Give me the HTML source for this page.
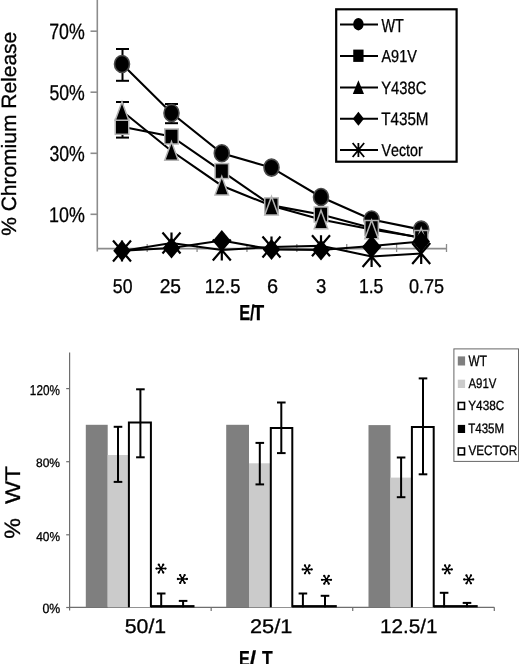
<!DOCTYPE html>
<html><head><meta charset="utf-8"><style>
html,body{margin:0;padding:0;background:#fff;}
body{width:520px;height:664px;overflow:hidden;}
svg{display:block;font-family:"Liberation Sans", sans-serif;will-change:transform;font-kerning:none;text-rendering:geometricPrecision;}
</style></head><body>
<svg width="520" height="664" viewBox="0 0 520 664">
<rect width="520" height="664" fill="#fff"/>
<line x1="97.3" y1="0" x2="97.3" y2="251.5" stroke="#8c8c8c" stroke-width="1.6"/>
<line x1="90.5" y1="31.2" x2="97.3" y2="31.2" stroke="#8c8c8c" stroke-width="1.6"/>
<line x1="90.5" y1="92.2" x2="97.3" y2="92.2" stroke="#8c8c8c" stroke-width="1.6"/>
<line x1="90.5" y1="153.3" x2="97.3" y2="153.3" stroke="#8c8c8c" stroke-width="1.6"/>
<line x1="90.5" y1="214.3" x2="97.3" y2="214.3" stroke="#8c8c8c" stroke-width="1.6"/>
<line x1="97.3" y1="248.6" x2="446.8" y2="248.6" stroke="#8c8c8c" stroke-width="1.8"/>
<line x1="147.19" y1="244" x2="147.19" y2="252" stroke="#8c8c8c" stroke-width="1.3"/>
<line x1="197.07" y1="244" x2="197.07" y2="252" stroke="#8c8c8c" stroke-width="1.3"/>
<line x1="246.96" y1="244" x2="246.96" y2="252" stroke="#8c8c8c" stroke-width="1.3"/>
<line x1="296.84" y1="244" x2="296.84" y2="252" stroke="#8c8c8c" stroke-width="1.3"/>
<line x1="346.73" y1="244" x2="346.73" y2="252" stroke="#8c8c8c" stroke-width="1.3"/>
<line x1="396.61" y1="244" x2="396.61" y2="252" stroke="#8c8c8c" stroke-width="1.3"/>
<line x1="446.5" y1="244" x2="446.5" y2="252" stroke="#8c8c8c" stroke-width="1.3"/>
<text transform="translate(49.19,38.88) scale(0.17811,0.22034)" font-size="100" fill="#000" stroke="#000" stroke-width="1.36">70%</text>
<text transform="translate(49.39,100.09) scale(0.17707,0.21610)" font-size="100" fill="#000" stroke="#000" stroke-width="1.39">50%</text>
<text transform="translate(49.43,161.39) scale(0.17689,0.21469)" font-size="100" fill="#000" stroke="#000" stroke-width="1.4">30%</text>
<text transform="translate(49.08,221.79) scale(0.17865,0.21186)" font-size="100" fill="#000" stroke="#000" stroke-width="1.42">10%</text>
<text transform="translate(112.79,292.71) scale(0.17712,0.19915)" font-size="100" fill="#000" stroke="#000" stroke-width="1.51">50</text>
<text transform="translate(159.63,292.71) scale(0.19215,0.19915)" font-size="100" fill="#000" stroke="#000" stroke-width="1.51">25</text>
<text transform="translate(204.63,292.71) scale(0.18362,0.19915)" font-size="100" fill="#000" stroke="#000" stroke-width="1.51">12.5</text>
<text transform="translate(266.99,292.71) scale(0.19938,0.19915)" font-size="100" fill="#000" stroke="#000" stroke-width="1.51">6</text>
<text transform="translate(315.89,292.71) scale(0.18561,0.19915)" font-size="100" fill="#000" stroke="#000" stroke-width="1.51">3</text>
<text transform="translate(358.9,292.7) scale(0.17652,0.20208)" font-size="100" fill="#000" stroke="#000" stroke-width="1.48">1.5</text>
<text transform="translate(408.89,292.71) scale(0.18067,0.19915)" font-size="100" fill="#000" stroke="#000" stroke-width="1.51">0.75</text>
<text transform="translate(239.3,319.6) scale(0.16398,0.21803)" font-size="100" font-weight="bold" fill="#000" stroke="#000" stroke-width="1.15">E</text>
<text transform="translate(250.04,319.6) scale(0.16260,0.21803)" font-size="100" font-weight="bold" fill="#000" stroke="#000" stroke-width="0.92">/</text>
<text transform="translate(252.48,319.6) scale(0.19189,0.21803)" font-size="100" font-weight="bold" fill="#000" stroke="#000" stroke-width="1.15">T</text>
<text transform="translate(15.8,235.85) rotate(-90) scale(0.20984,0.20698)" font-size="100" fill="#000" stroke="#000" stroke-width="1.45">% Chromium Release</text>
<line x1="122.5" y1="49" x2="122.5" y2="80.8" stroke="#000" stroke-width="2"/>
<line x1="116" y1="49" x2="129" y2="49" stroke="#000" stroke-width="2"/>
<line x1="116" y1="80.8" x2="129" y2="80.8" stroke="#000" stroke-width="2"/>
<line x1="171.5" y1="104" x2="171.5" y2="123.2" stroke="#000" stroke-width="2"/>
<line x1="165" y1="104" x2="178" y2="104" stroke="#000" stroke-width="2"/>
<line x1="165" y1="123.2" x2="178" y2="123.2" stroke="#000" stroke-width="2"/>
<line x1="122.5" y1="102" x2="122.5" y2="137.6" stroke="#000" stroke-width="2"/>
<line x1="116" y1="102" x2="129" y2="102" stroke="#000" stroke-width="2"/>
<line x1="116" y1="137.6" x2="129" y2="137.6" stroke="#000" stroke-width="2"/>
<polyline points="122,64 171.5,113 221.8,153.3 271.5,167.6 321,197 371.6,219.5 421.2,229.6" fill="none" stroke="#000" stroke-width="2.1"/>
<polyline points="122,126.8 171.5,136.5 221.8,171.1 271.5,205.4 321,214.5 371.6,228 421.2,238" fill="none" stroke="#000" stroke-width="2.1"/>
<polyline points="122,111 171.5,151 221.8,185.7 271.5,205.8 321,219.5 371.6,229.5 421.2,237.5" fill="none" stroke="#000" stroke-width="2.1"/>
<polyline points="122,250.8 171.5,248 221.8,240.5 271.5,249.4 321,250 371.6,246 421.2,241.5" fill="none" stroke="#000" stroke-width="2.1"/>
<polyline points="122,251 171.5,243 221.8,250 271.5,247 321,245.7 371.6,256.5 421.2,253.5" fill="none" stroke="#000" stroke-width="2.1"/>
<ellipse cx="122" cy="64" rx="7.5" ry="8.5" fill="#000" stroke="#4a4a4a" stroke-width="1.6"/>
<ellipse cx="171.5" cy="113" rx="7.5" ry="8.5" fill="#000" stroke="#4a4a4a" stroke-width="1.6"/>
<ellipse cx="221.8" cy="153.3" rx="7.5" ry="8.5" fill="#000" stroke="#4a4a4a" stroke-width="1.6"/>
<ellipse cx="271.5" cy="167.6" rx="7.5" ry="8.5" fill="#000" stroke="#4a4a4a" stroke-width="1.6"/>
<ellipse cx="321" cy="197" rx="7.5" ry="8.5" fill="#000" stroke="#4a4a4a" stroke-width="1.6"/>
<ellipse cx="371.6" cy="219.5" rx="7.5" ry="8.5" fill="#000" stroke="#4a4a4a" stroke-width="1.6"/>
<ellipse cx="421.2" cy="229.6" rx="7.5" ry="8.5" fill="#000" stroke="#4a4a4a" stroke-width="1.6"/>
<rect x="115.25" y="119.3" width="13.5" height="15" fill="#000" stroke="#b4b4b4" stroke-width="1.5"/>
<rect x="164.75" y="129" width="13.5" height="15" fill="#000" stroke="#b4b4b4" stroke-width="1.5"/>
<rect x="215.05" y="163.6" width="13.5" height="15" fill="#000" stroke="#b4b4b4" stroke-width="1.5"/>
<rect x="264.75" y="197.9" width="13.5" height="15" fill="#000" stroke="#b4b4b4" stroke-width="1.5"/>
<rect x="314.25" y="207" width="13.5" height="15" fill="#000" stroke="#b4b4b4" stroke-width="1.5"/>
<rect x="364.85" y="220.5" width="13.5" height="15" fill="#000" stroke="#b4b4b4" stroke-width="1.5"/>
<rect x="414.45" y="230.5" width="13.5" height="15" fill="#000" stroke="#b4b4b4" stroke-width="1.5"/>
<polygon points="122,101.75 128.75,120.25 115.25,120.25" fill="#000" stroke="#b4b4b4" stroke-width="1.5"/>
<polygon points="171.5,141.75 178.25,160.25 164.75,160.25" fill="#000" stroke="#b4b4b4" stroke-width="1.5"/>
<polygon points="221.8,176.45 228.55,194.95 215.05,194.95" fill="#000" stroke="#b4b4b4" stroke-width="1.5"/>
<polygon points="271.5,196.55 278.25,215.05 264.75,215.05" fill="#000" stroke="#b4b4b4" stroke-width="1.5"/>
<polygon points="321,210.25 327.75,228.75 314.25,228.75" fill="#000" stroke="#b4b4b4" stroke-width="1.5"/>
<polygon points="371.6,220.25 378.35,238.75 364.85,238.75" fill="#000" stroke="#b4b4b4" stroke-width="1.5"/>
<polygon points="421.2,228.25 427.95,246.75 414.45,246.75" fill="#000" stroke="#b4b4b4" stroke-width="1.5"/>
<polygon points="122,240.3 130.75,250.8 122,261.3 113.25,250.8" fill="#000"/>
<polygon points="171.5,237.5 180.25,248 171.5,258.5 162.75,248" fill="#000"/>
<polygon points="221.8,230 230.55,240.5 221.8,251 213.05,240.5" fill="#000"/>
<polygon points="271.5,238.9 280.25,249.4 271.5,259.9 262.75,249.4" fill="#000"/>
<polygon points="321,239.5 329.75,250 321,260.5 312.25,250" fill="#000"/>
<polygon points="371.6,235.5 380.35,246 371.6,256.5 362.85,246" fill="#000"/>
<polygon points="421.2,231 429.95,241.5 421.2,252 412.45,241.5" fill="#000"/>
<path d="M113,240.5L131,261.5M131,240.5L113,261.5M122,240.5L122,261.5" stroke="#000" stroke-width="2.2" fill="none"/>
<path d="M162.5,232.5L180.5,253.5M180.5,232.5L162.5,253.5M171.5,232.5L171.5,253.5" stroke="#000" stroke-width="2.2" fill="none"/>
<path d="M212.8,239.5L230.8,260.5M230.8,239.5L212.8,260.5M221.8,239.5L221.8,260.5" stroke="#000" stroke-width="2.2" fill="none"/>
<path d="M262.5,236.5L280.5,257.5M280.5,236.5L262.5,257.5M271.5,236.5L271.5,257.5" stroke="#000" stroke-width="2.2" fill="none"/>
<path d="M312,235.2L330,256.2M330,235.2L312,256.2M321,235.2L321,256.2" stroke="#000" stroke-width="2.2" fill="none"/>
<path d="M362.6,246L380.6,267M380.6,246L362.6,267M371.6,246L371.6,267" stroke="#000" stroke-width="2.2" fill="none"/>
<path d="M412.2,243L430.2,264M430.2,243L412.2,264M421.2,243L421.2,264" stroke="#000" stroke-width="2.2" fill="none"/>
<rect x="336.2" y="9.3" width="120.4" height="152.4" fill="#fff" stroke="#000" stroke-width="2.2"/>
<line x1="340" y1="24.5" x2="378" y2="24.5" stroke="#000" stroke-width="2"/>
<ellipse cx="358.4" cy="24.2" rx="5.15" ry="6.2" fill="#000"/>
<text transform="translate(381.44,31.5) scale(0.14404,0.18896)" font-size="100" fill="#000" stroke="#000" stroke-width="1.59">WT</text>
<line x1="340" y1="56" x2="378" y2="56" stroke="#000" stroke-width="2"/>
<rect x="353.25" y="49.6" width="10.3" height="12.3" fill="#000"/>
<text transform="translate(381.47,61.83) scale(0.14468,0.17373)" font-size="100" fill="#000" stroke="#000" stroke-width="1.73">A91V</text>
<line x1="340" y1="87.5" x2="378" y2="87.5" stroke="#000" stroke-width="2"/>
<polygon points="358.4,80.2 364,94 352.8,94" fill="#000"/>
<text transform="translate(381.18,94.02) scale(0.14779,0.17938)" font-size="100" fill="#000" stroke="#000" stroke-width="1.67">Y438C</text>
<line x1="340" y1="118.75" x2="378" y2="118.75" stroke="#000" stroke-width="2"/>
<polygon points="358.4,111.65 364,118.75 358.4,125.85 352.8,118.75" fill="#000"/>
<text transform="translate(381.16,125.32) scale(0.15227,0.18079)" font-size="100" fill="#000" stroke="#000" stroke-width="1.66">T435M</text>
<line x1="340" y1="150" x2="378" y2="150" stroke="#000" stroke-width="2"/>
<path d="M352.65,143L364.15,157M364.15,143L352.65,157M358.4,143L358.4,157" stroke="#000" stroke-width="1.8" fill="none"/>
<text transform="translate(381.44,156.33) scale(0.14255,0.17198)" font-size="100" fill="#000" stroke="#000" stroke-width="1.74">Vector</text>
<line x1="69.6" y1="352.5" x2="69.6" y2="610.5" stroke="#6e6e6e" stroke-width="1.2"/>
<line x1="66.2" y1="388.6" x2="69.6" y2="388.6" stroke="#6e6e6e" stroke-width="1.2"/>
<line x1="66.2" y1="461.7" x2="69.6" y2="461.7" stroke="#6e6e6e" stroke-width="1.2"/>
<line x1="66.2" y1="534.8" x2="69.6" y2="534.8" stroke="#6e6e6e" stroke-width="1.2"/>
<line x1="66.2" y1="607.5" x2="69.6" y2="607.5" stroke="#6e6e6e" stroke-width="1.2"/>
<line x1="69.6" y1="607.3" x2="494.3" y2="607.3" stroke="#6e6e6e" stroke-width="1.2"/>
<line x1="211.17" y1="607.3" x2="211.17" y2="611" stroke="#6e6e6e" stroke-width="1.2"/>
<line x1="352.73" y1="607.3" x2="352.73" y2="611" stroke="#6e6e6e" stroke-width="1.2"/>
<line x1="494.3" y1="607.3" x2="494.3" y2="611" stroke="#6e6e6e" stroke-width="1.2"/>
<text transform="translate(29.87,394.86) scale(0.11708,0.14124)" font-size="100" fill="#000" stroke="#000" stroke-width="2.12">120%</text>
<text transform="translate(35.98,466.88) scale(0.12016,0.12288)" font-size="100" fill="#000" stroke="#000" stroke-width="2.44">80%</text>
<text transform="translate(36.23,540.87) scale(0.11890,0.12853)" font-size="100" fill="#000" stroke="#000" stroke-width="2.33">40%</text>
<text transform="translate(42.52,612.87) scale(0.12257,0.13418)" font-size="100" fill="#000" stroke="#000" stroke-width="2.24">0%</text>
<rect x="85.8" y="424.8" width="21.9" height="182.5" fill="#7f7f7f"/>
<rect x="107.7" y="455" width="21.2" height="152.3" fill="#cbcbcb"/>
<path d="M128.9,607.3V422.5H150.9V607.3" fill="#fff" stroke="#000" stroke-width="2"/>
<rect x="150.9" y="605.1" width="43.6" height="2.3" fill="#000"/>
<rect x="226.2" y="424.8" width="22.8" height="182.5" fill="#7f7f7f"/>
<rect x="249" y="463.3" width="21.8" height="144" fill="#cbcbcb"/>
<path d="M270.8,607.3V428H292.3V607.3" fill="#fff" stroke="#000" stroke-width="2"/>
<rect x="292.3" y="605.1" width="44.5" height="2.3" fill="#000"/>
<rect x="368.5" y="425.1" width="22" height="182.2" fill="#7f7f7f"/>
<rect x="390.5" y="477.6" width="21.4" height="129.7" fill="#cbcbcb"/>
<path d="M411.9,607.3V427.1H433.7V607.3" fill="#fff" stroke="#000" stroke-width="2"/>
<rect x="433.7" y="605.1" width="44" height="2.3" fill="#000"/>
<rect x="453.9" y="348.9" width="64.6" height="112.5" fill="#fff" stroke="#666" stroke-width="1"/>
<rect x="457.8" y="356.4" width="7.3" height="9.1" fill="#7f7f7f"/>
<text transform="translate(468.45,365.9) scale(0.11851,0.15117)" font-size="100" fill="#000" stroke="#000" stroke-width="1.98">WT</text>
<rect x="457.8" y="379.7" width="7.3" height="8.3" fill="#cbcbcb"/>
<text transform="translate(468.48,387.66) scale(0.11435,0.13842)" font-size="100" fill="#000" stroke="#000" stroke-width="2.17">A91V</text>
<rect x="458.3" y="402.5" width="6.2" height="6.8" fill="#fff" stroke="#000" stroke-width="1.6"/>
<text transform="translate(468.24,410.37) scale(0.11776,0.13418)" font-size="100" fill="#000" stroke="#000" stroke-width="2.24">Y438C</text>
<rect x="457.8" y="424.9" width="7.3" height="8.1" fill="#000"/>
<text transform="translate(468.24,432.87) scale(0.11537,0.13700)" font-size="100" fill="#000" stroke="#000" stroke-width="2.19">T435M</text>
<rect x="458.3" y="448" width="6.2" height="6.8" fill="#fff" stroke="#000" stroke-width="1.6"/>
<text transform="translate(468.45,455.47) scale(0.11686,0.13700)" font-size="100" fill="#000" stroke="#000" stroke-width="2.19">VECTOR</text>
<text transform="translate(124.75,633.21) scale(0.21243,0.19881)" font-size="100" fill="#000" stroke="#000" stroke-width="1.51">50/1</text>
<text transform="translate(249.9,633.21) scale(0.21790,0.19745)" font-size="100" fill="#000" stroke="#000" stroke-width="1.52">25/1</text>
<text transform="translate(379.9,633.11) scale(0.20747,0.19745)" font-size="100" fill="#000" stroke="#000" stroke-width="1.52">12.5/1</text>
<text transform="translate(239.11,665.6) scale(0.16220,0.21803)" font-size="100" font-weight="bold" fill="#000" stroke="#000" stroke-width="1.15">E</text>
<text transform="translate(249.57,665.6) scale(0.24003,0.21803)" font-size="100" font-weight="bold" fill="#000" stroke="#000" stroke-width="0.92">/</text>
<text transform="translate(262.1,665.6) scale(0.17491,0.21803)" font-size="100" font-weight="bold" fill="#000" stroke="#000" stroke-width="1.15">T</text>
<text transform="translate(19.8,504.11) rotate(-90) scale(0.24552,0.21221)" font-size="100" fill="#000" stroke="#000" stroke-width="1.41">WT</text>
<text transform="translate(20.07,538.83) rotate(-90) scale(0.23231,0.22295)" font-size="100" fill="#000" stroke="#000" stroke-width="1.35">%</text>
<line x1="118" y1="426.8" x2="118" y2="481.9" stroke="#000" stroke-width="2"/>
<line x1="113.7" y1="426.8" x2="122.3" y2="426.8" stroke="#000" stroke-width="2"/>
<line x1="113.7" y1="481.9" x2="122.3" y2="481.9" stroke="#000" stroke-width="2"/>
<line x1="140.4" y1="389.3" x2="140.4" y2="457.3" stroke="#000" stroke-width="2"/>
<line x1="136.1" y1="389.3" x2="144.7" y2="389.3" stroke="#000" stroke-width="2"/>
<line x1="136.1" y1="457.3" x2="144.7" y2="457.3" stroke="#000" stroke-width="2"/>
<line x1="161.2" y1="593.5" x2="161.2" y2="607.3" stroke="#000" stroke-width="2"/>
<line x1="156.9" y1="593.5" x2="165.5" y2="593.5" stroke="#000" stroke-width="2"/>
<line x1="183.1" y1="600.9" x2="183.1" y2="607.3" stroke="#000" stroke-width="2"/>
<line x1="178.8" y1="600.9" x2="187.4" y2="600.9" stroke="#000" stroke-width="2"/>
<line x1="259.8" y1="442.9" x2="259.8" y2="484.4" stroke="#000" stroke-width="2"/>
<line x1="255.5" y1="442.9" x2="264.1" y2="442.9" stroke="#000" stroke-width="2"/>
<line x1="255.5" y1="484.4" x2="264.1" y2="484.4" stroke="#000" stroke-width="2"/>
<line x1="281.3" y1="402.5" x2="281.3" y2="453.1" stroke="#000" stroke-width="2"/>
<line x1="277" y1="402.5" x2="285.6" y2="402.5" stroke="#000" stroke-width="2"/>
<line x1="277" y1="453.1" x2="285.6" y2="453.1" stroke="#000" stroke-width="2"/>
<line x1="302.9" y1="593.5" x2="302.9" y2="607.3" stroke="#000" stroke-width="2"/>
<line x1="298.6" y1="593.5" x2="307.2" y2="593.5" stroke="#000" stroke-width="2"/>
<line x1="325" y1="595.8" x2="325" y2="607.3" stroke="#000" stroke-width="2"/>
<line x1="320.7" y1="595.8" x2="329.3" y2="595.8" stroke="#000" stroke-width="2"/>
<line x1="401.1" y1="457.5" x2="401.1" y2="497.2" stroke="#000" stroke-width="2"/>
<line x1="396.8" y1="457.5" x2="405.4" y2="457.5" stroke="#000" stroke-width="2"/>
<line x1="396.8" y1="497.2" x2="405.4" y2="497.2" stroke="#000" stroke-width="2"/>
<line x1="423" y1="378.4" x2="423" y2="474.3" stroke="#000" stroke-width="2"/>
<line x1="418.7" y1="378.4" x2="427.3" y2="378.4" stroke="#000" stroke-width="2"/>
<line x1="418.7" y1="474.3" x2="427.3" y2="474.3" stroke="#000" stroke-width="2"/>
<line x1="444.1" y1="592.8" x2="444.1" y2="607.3" stroke="#000" stroke-width="2"/>
<line x1="439.8" y1="592.8" x2="448.4" y2="592.8" stroke="#000" stroke-width="2"/>
<line x1="467" y1="602.9" x2="467" y2="607.3" stroke="#000" stroke-width="2"/>
<line x1="462.7" y1="602.9" x2="471.3" y2="602.9" stroke="#000" stroke-width="2"/>
<path d="M156.5,568.6L165.5,568.6M158.75,564.7L163.25,572.5M163.25,564.7L158.75,572.5" stroke="#000" stroke-width="1.5" stroke-linecap="round" fill="none"/>
<circle cx="156.5" cy="568.6" r="1.15"/><circle cx="165.5" cy="568.6" r="1.15"/><circle cx="158.75" cy="564.7" r="1.15"/><circle cx="163.25" cy="572.5" r="1.15"/><circle cx="163.25" cy="564.7" r="1.15"/><circle cx="158.75" cy="572.5" r="1.15"/>
<path d="M177.9,579L186.9,579M180.15,575.1L184.65,582.9M184.65,575.1L180.15,582.9" stroke="#000" stroke-width="1.5" stroke-linecap="round" fill="none"/>
<circle cx="177.9" cy="579" r="1.15"/><circle cx="186.9" cy="579" r="1.15"/><circle cx="180.15" cy="575.1" r="1.15"/><circle cx="184.65" cy="582.9" r="1.15"/><circle cx="184.65" cy="575.1" r="1.15"/><circle cx="180.15" cy="582.9" r="1.15"/>
<path d="M302.7,569.4L311.7,569.4M304.95,565.5L309.45,573.3M309.45,565.5L304.95,573.3" stroke="#000" stroke-width="1.5" stroke-linecap="round" fill="none"/>
<circle cx="302.7" cy="569.4" r="1.15"/><circle cx="311.7" cy="569.4" r="1.15"/><circle cx="304.95" cy="565.5" r="1.15"/><circle cx="309.45" cy="573.3" r="1.15"/><circle cx="309.45" cy="565.5" r="1.15"/><circle cx="304.95" cy="573.3" r="1.15"/>
<path d="M322,579.8L331,579.8M324.25,575.9L328.75,583.7M328.75,575.9L324.25,583.7" stroke="#000" stroke-width="1.5" stroke-linecap="round" fill="none"/>
<circle cx="322" cy="579.8" r="1.15"/><circle cx="331" cy="579.8" r="1.15"/><circle cx="324.25" cy="575.9" r="1.15"/><circle cx="328.75" cy="583.7" r="1.15"/><circle cx="328.75" cy="575.9" r="1.15"/><circle cx="324.25" cy="583.7" r="1.15"/>
<path d="M442.8,569.4L451.8,569.4M445.05,565.5L449.55,573.3M449.55,565.5L445.05,573.3" stroke="#000" stroke-width="1.5" stroke-linecap="round" fill="none"/>
<circle cx="442.8" cy="569.4" r="1.15"/><circle cx="451.8" cy="569.4" r="1.15"/><circle cx="445.05" cy="565.5" r="1.15"/><circle cx="449.55" cy="573.3" r="1.15"/><circle cx="449.55" cy="565.5" r="1.15"/><circle cx="445.05" cy="573.3" r="1.15"/>
<path d="M464.2,579.4L473.2,579.4M466.45,575.5L470.95,583.3M470.95,575.5L466.45,583.3" stroke="#000" stroke-width="1.5" stroke-linecap="round" fill="none"/>
<circle cx="464.2" cy="579.4" r="1.15"/><circle cx="473.2" cy="579.4" r="1.15"/><circle cx="466.45" cy="575.5" r="1.15"/><circle cx="470.95" cy="583.3" r="1.15"/><circle cx="470.95" cy="575.5" r="1.15"/><circle cx="466.45" cy="583.3" r="1.15"/>
</svg>
</body></html>
